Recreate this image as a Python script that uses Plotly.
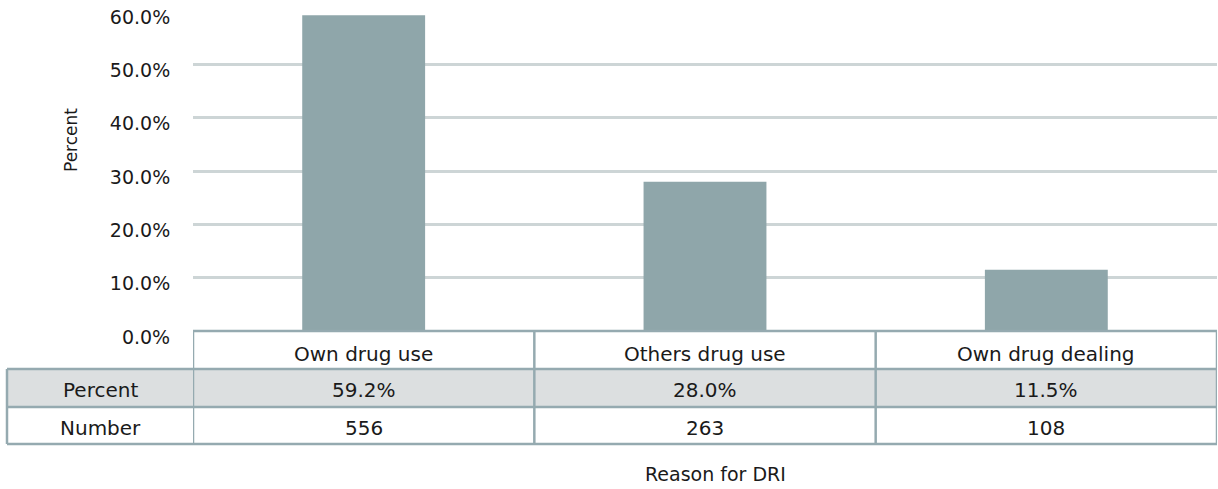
import plotly.graph_objects as go

# ---- data ----
categories = ["Own drug use", "Others drug use", "Own drug dealing"]
percent_values = [59.2, 28.0, 11.5]
percent_labels = ["59.2%", "28.0%", "11.5%"]
number_values = [556, 263, 108]
row_labels = ["Percent", "Number"]
y_tickvals = [0, 10, 20, 30, 40, 50, 60]
y_ticktext = ["0.0%", "10.0%", "20.0%", "30.0%", "40.0%", "50.0%", "60.0%"]

# ---- layout geometry (pixels) ----
W, H = 1218, 489
ML, MR, MT, MB = 193, 1, 11, 158
PW = W - ML - MR
PH = H - MT - MB

def px(xp):
    return (xp - ML) / PW

def py(yp):
    return (H - MB - yp) / PH

BAR = "#8fa6aa"
GRID = "#cdd5d6"
BORDER = "#95aab0"
ROWFILL = "#dcdfe0"
TXT = "#1a1a1a"
FONT = "DejaVu Sans"
TS = 20

fig = go.Figure()
fig.add_trace(go.Bar(
    x=list(range(len(categories))), y=percent_values,
    marker=dict(color=BAR, line=dict(width=0)),
    width=0.36, hoverinfo="skip", showlegend=False,
))

# table rows (pixel y)
row_top, r1, r2, r3 = 331, 369, 407, 444
left_x = 7

shapes = []
shapes.append(dict(type="rect", xref="paper", yref="paper", x0=px(left_x), x1=1, y0=py(r2), y1=py(r1),
                   fillcolor=ROWFILL, line=dict(width=0), layer="below"))
lw = 2.5
shapes.append(dict(type="line", xref="paper", yref="paper", x0=0, x1=1, y0=0, y1=0,
                   line=dict(color=BORDER, width=lw)))
for yy in (r1, r2, r3):
    shapes.append(dict(type="line", xref="paper", yref="paper", x0=px(left_x), x1=1, y0=py(yy), y1=py(yy),
                       line=dict(color=BORDER, width=lw)))
shapes.append(dict(type="line", xref="paper", yref="paper", x0=px(left_x), x1=px(left_x), y0=py(r1), y1=py(r3),
                   line=dict(color=BORDER, width=lw)))
for i in range(len(categories) + 1):
    xb = i - 0.5
    shapes.append(dict(type="line", xref="x", yref="paper", x0=xb, x1=xb, y0=0, y1=py(r3),
                       line=dict(color=BORDER, width=lw)))

def ann(x, y, text, xref="x", size=TS, **kw):
    d = dict(x=x, y=y, xref=xref, yref="paper", text=text, showarrow=False,
             font=dict(family=FONT, size=size, color=TXT), xanchor="center", yanchor="middle")
    d.update(kw)
    return d

annotations = []
for i, c in enumerate(categories):
    annotations.append(ann(i, py((row_top + r1) / 2 + 4), c))
    annotations.append(ann(i, py((r1 + r2) / 2 + 2), percent_labels[i]))
    annotations.append(ann(i, py((r2 + r3) / 2 + 2), str(number_values[i])))
annotations.append(ann(px((left_x + ML) / 2), py((r1 + r2) / 2 + 2), row_labels[0], xref="paper"))
annotations.append(ann(px((left_x + ML) / 2), py((r2 + r3) / 2 + 2), row_labels[1], xref="paper"))
annotations.append(ann(px(71), py(140), "Percent", xref="paper", size=17, textangle=-90))
annotations.append(ann(px(715), py(474), "Reason for DRI", xref="paper", size=19))

fig.update_layout(
    width=W, height=H,
    margin=dict(l=ML, r=MR, t=MT, b=MB, pad=0),
    paper_bgcolor="white", plot_bgcolor="white",
    xaxis=dict(range=[-0.5, len(categories) - 0.5], showticklabels=False, showgrid=False,
               zeroline=False, showline=False, fixedrange=True),
    yaxis=dict(range=[0, 60], tickvals=y_tickvals, ticktext=y_ticktext, showgrid=True,
               gridcolor=GRID, gridwidth=2.5, zeroline=False, showline=False,
               ticks="outside", ticklen=18, tickcolor="rgba(0,0,0,0)", ticklabelshift=6,
               tickfont=dict(family=FONT, size=19, color=TXT), fixedrange=True),
    shapes=shapes, annotations=annotations,
)

fig.write_html("out.html")
